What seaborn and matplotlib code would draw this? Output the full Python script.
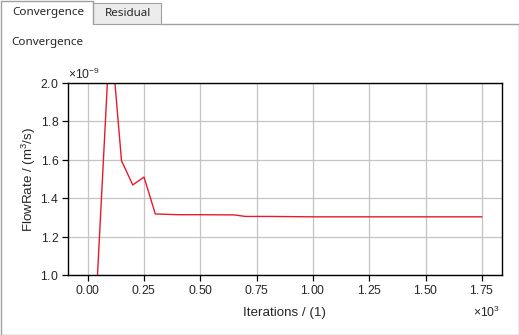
import matplotlib
matplotlib.use("Agg")
import matplotlib.pyplot as plt
import seaborn as sns
import pandas as pd
from matplotlib.patches import Rectangle
from matplotlib.lines import Line2D
from matplotlib.transforms import ScaledTranslation

# ---- data ----
iterations = [0, 100, 150, 200, 250, 300, 400, 500, 650, 700, 800, 1000, 1250, 1500, 1750]
flow_rate_e9 = [0.01, 2.29, 1.595, 1.469, 1.51, 1.318, 1.314, 1.314, 1.313, 1.305, 1.305, 1.303, 1.303, 1.303, 1.303]
x_ticks = [0, 250, 500, 750, 1000, 1250, 1500, 1750]
y_ticks_e9 = [1.0, 1.2, 1.4, 1.6, 1.8, 2.0]
tab_labels = ["Convergence", "Residual"]
panel_title = "Convergence"
x_label = "Iterations / (1)"
y_label = "FlowRate / (m$^3$/s)"

df = pd.DataFrame({"it": iterations, "q": [v * 1e-9 for v in flow_rate_e9]})

sns.set_style("white")
plt.rcParams["font.family"] = ["Liberation Sans", "DejaVu Sans"]
plt.rcParams["mathtext.fontset"] = "custom"
plt.rcParams["mathtext.rm"] = "Liberation Sans"
plt.rcParams["mathtext.it"] = "Liberation Sans:italic"

W, H = 519, 335
fig = plt.figure(figsize=(W / 100, H / 100), dpi=100)
fig.patch.set_facecolor("white")


def fx(px):
    return px / W


def fy(py):
    return 1 - py / H


border = "#a0a0a0"
# tabs / panel decoration
fig.add_artist(Rectangle((fx(93), fy(24)), fx(161 - 93), 21 / H, transform=fig.transFigure,
                         facecolor="#ececec", edgecolor=border, lw=0.8))
for (x0, y0, x1, y1) in [(0.5, 1, 93, 1), (93, 1, 93, 24), (0.5, 1, 0.5, 334.5),
                         (161, 24, 518.5, 24), (518.5, 24, 518.5, 334.5), (0.5, 334.5, 518.5, 334.5)]:
    fig.add_artist(Line2D([fx(x0), fx(x1)], [fy(y0), fy(y1)], transform=fig.transFigure,
                          color=border, lw=1.0))
fig.text(fx(12), fy(13), tab_labels[0], fontsize=8.4, va="center", ha="left",
         family=["Noto Sans", "DejaVu Sans"])
fig.text(fx(105), fy(14), tab_labels[1], fontsize=8.4, va="center", ha="left",
         family=["Noto Sans", "DejaVu Sans"])
fig.text(fx(11), fy(43), panel_title, fontsize=8.4, va="center", ha="left",
         family=["Noto Sans", "DejaVu Sans"])

ax = fig.add_axes([fx(68), fy(275), fx(501.7 - 68), (275 - 83) / H])
sns.lineplot(data=df, x="it", y="q", ax=ax, color="#e8192c", lw=1.0)

ax.set_xlim(-87.5, 1837.5)
ax.set_ylim(1e-9, 2e-9)
ax.set_xticks(x_ticks)
ax.set_yticks([v * 1e-9 for v in y_ticks_e9])
ax.ticklabel_format(axis="both", style="sci", scilimits=(0, 0), useMathText=True)
ax.grid(True, color="#c4c4c4", lw=0.9)
for s in ax.spines.values():
    s.set_color("black")
    s.set_linewidth(1.0)
ax.tick_params(axis="both", which="major", direction="out", length=4, width=0.9,
               color="black", labelsize=8.7, pad=2.5, bottom=True, left=True)
ax.set_xlabel(x_label, fontsize=9.6, labelpad=7)
ax.set_ylabel(y_label, fontsize=9.6, labelpad=2)
xo = ax.xaxis.get_offset_text()
xo.set_fontsize(8.7)
xo.set_transform(xo.get_transform() + ScaledTranslation(-2 / 100, -4 / 100, fig.dpi_scale_trans))
ax.yaxis.get_offset_text().set_fontsize(8.7)

fig.savefig("out.png", dpi=100)
